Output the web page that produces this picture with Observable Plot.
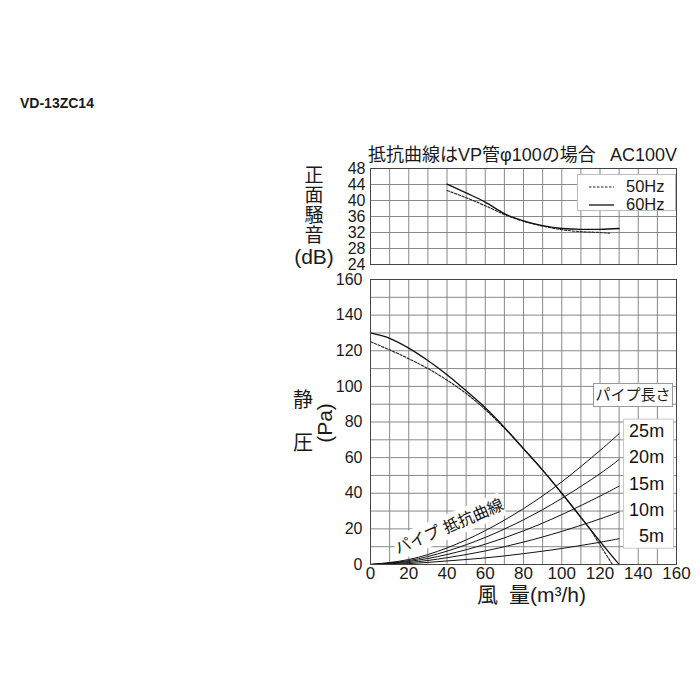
<!DOCTYPE html>
<html><head><meta charset="utf-8">
<script src="https://cdn.jsdelivr.net/npm/d3@7"></script>
<script src="https://cdn.jsdelivr.net/npm/@observablehq/plot@0.6"></script>
<style>
body{margin:0;background:#fff;}
#wrap{position:relative;width:700px;height:700px;overflow:hidden;font-family:"Liberation Sans",Arial,"Noto Sans CJK JP",sans-serif;color:#1a1a1a;}
.abs{position:absolute;white-space:nowrap;}
#wrap svg{position:absolute;left:0;}
</style></head><body><div id="wrap"></div>
<script>
// ---- data ----
const flowTicks = [0, 20, 40, 60, 80, 100, 120, 140, 160];
const pressureTicks = [0, 20, 40, 60, 80, 100, 120, 140, 160];
const noiseTicks = [24, 28, 32, 36, 40, 44, 48];

// noise (dB) vs flow
const noiseFlow60 = [40, 50, 60, 70, 80, 90, 100, 110, 120, 130];
const noise60     = [44.1, 41.9, 39.6, 36.7, 34.9, 33.7, 33.0, 32.8, 32.8, 33.0];
const noiseFlow50 = [40, 50, 60, 70, 80, 90, 100, 110, 120, 125];
const noise50     = [42.5, 40.7, 38.7, 36.5, 34.8, 33.6, 32.7, 32.2, 32.0, 31.8];

// static pressure (Pa) vs flow
const pqFlow60 = [0, 10, 20, 30, 40, 50, 60, 70, 80, 90, 100, 110, 120, 130];
const pq60     = [130, 127, 121.5, 114.5, 106.5, 97.5, 88, 77, 65, 53, 40, 26.5, 13, 0];
const pqFlow50 = [0, 10, 20, 30, 40, 50, 60, 70, 80, 90, 100, 110, 115, 120, 126.5];
const pq50     = [125, 120.5, 115.5, 110, 103.5, 96, 87, 76.5, 65, 53, 40, 26.5, 19.5, 11, 0];

// pipe resistance curves
const pipeFlow = [0, 20, 40, 60, 80, 100, 120, 130];
const pipeLabels = ["5m", "10m", "15m", "20m", "25m"];
const pipe5  = [0, 0.5, 2, 3.7, 6.1, 9, 12.5, 14.5];
const pipe10 = [0, 1.1, 3.8, 7.6, 12.6, 18.6, 25.6, 29.5];
const pipe15 = [0, 1.7, 5.6, 11.4, 18.9, 28, 38.4, 44];
const pipe20 = [0, 2.2, 7.5, 15.2, 25.1, 37.1, 51, 59];
const pipe25 = [0, 2.8, 9.3, 19, 31.4, 46.4, 64, 73.5];
const pipeValues = [pipe5, pipe10, pipe15, pipe20, pipe25];

// ---- tables ----
const rows = (xs, ys, key) => xs.map((q, i) => ({q, v: ys[i], s: key}));
const noiseA = rows(noiseFlow50, noise50, "50Hz");
const noiseB = rows(noiseFlow60, noise60, "60Hz");
const pqA = rows(pqFlow50, pq50, "50Hz");
const pqB = rows(pqFlow60, pq60, "60Hz");
const pipeRows = pipeLabels.flatMap((l, k) => rows(pipeFlow, pipeValues[k], l));
const pipeEnds = pipeLabels.map((l, k) => ({q: pipeFlow[pipeFlow.length - 1], v: pipeValues[k][pipeValues[k].length - 1], label: l}));

const FONT = '"Liberation Sans", Arial, "Noto Sans CJK JP", sans-serif';
const grid10 = d3.range(0, 161, 10);
const gridStyle = {stroke: "#7c7c7c", strokeOpacity: 1, strokeWidth: 0.9};
const baseStyle = {fontFamily: FONT, fontSize: "16px", color: "#1a1a1a", background: "transparent", overflow: "visible"};

const wrap = document.getElementById("wrap");

// ---- top: noise ----
const noisePlot = Plot.plot({
  width: 700, height: 140,
  marginLeft: 370, marginRight: 24, marginTop: 28, marginBottom: 16,
  x: {domain: [0, 160], axis: null},
  y: {domain: [24, 48], axis: null},
  style: baseStyle,
  marks: [
    Plot.gridX(grid10, gridStyle),
    Plot.gridY(noiseTicks, gridStyle),
    Plot.frame({stroke: "#444", strokeWidth: 1}),
    Plot.axisY(noiseTicks, {tickSize: 0, tickPadding: 5, label: null}),
    Plot.line(noiseA, {x: "q", y: "v", curve: "monotone-x", stroke: "#222", strokeWidth: 1.1, strokeDasharray: "2.5,1.5"}),
    Plot.line(noiseB, {x: "q", y: "v", curve: "monotone-x", stroke: "#111", strokeWidth: 1.3})
  ]
});
noisePlot.style.top = "140px";
wrap.appendChild(noisePlot);

// ---- bottom: static pressure ----
const pressurePlot = Plot.plot({
  width: 700, height: 344,
  marginLeft: 370, marginRight: 24, marginTop: 19, marginBottom: 40,
  x: {domain: [0, 160], axis: null},
  y: {domain: [0, 160], axis: null},
  style: baseStyle,
  marks: [
    Plot.gridX(grid10, gridStyle),
    Plot.gridY(grid10, gridStyle),
    Plot.line(pipeRows, {x: "q", y: "v", z: "s", curve: "natural", stroke: "#111", strokeWidth: 1}),
    Plot.line(pqA, {x: "q", y: "v", curve: "monotone-x", stroke: "#222", strokeWidth: 1.1, strokeDasharray: "2.5,1.5"}),
    Plot.line(pqB, {x: "q", y: "v", curve: "monotone-x", stroke: "#111", strokeWidth: 1.3}),
    Plot.frame({stroke: "#444", strokeWidth: 1}),
    Plot.axisY(pressureTicks, {tickSize: 0, tickPadding: 8, label: null}),
    Plot.axisX(flowTicks, {tickSize: 0, tickPadding: 2, label: null, fontSize: 17}),
    // white box behind the pipe-length labels
    (index, {x, y}) => {
      const ends = pipeEnds.map(d => d.v);
      const x0 = x(d3.max(pipeFlow)) + 5;
      const yTop = y(d3.max(ends)) - 14;
      const yBot = y(d3.min(ends)) + 10;
      const r = document.createElementNS("http://www.w3.org/2000/svg", "rect");
      r.setAttribute("x", x0); r.setAttribute("y", yTop);
      r.setAttribute("width", 50); r.setAttribute("height", yBot - yTop);
      r.setAttribute("fill", "white"); r.setAttribute("stroke", "#bbb"); r.setAttribute("stroke-width", 0.8);
      return r;
    },
    Plot.text(pipeEnds, {x: "q", y: "v", text: "label", textAnchor: "end", dx: 45, dy: -2, fontSize: 18, fill: "#111"}),
    // rotated "パイプ抵抗曲線" label with white background
    (index, {x, y}) => {
      const g = d3.create("svg:g").attr("transform", `translate(${x(41.3)},${y(21.2)}) rotate(-23)`);
      g.append("rect").attr("x", -58).attr("y", -12).attr("width", 116).attr("height", 24).attr("fill", "white");
      g.append("text").attr("text-anchor", "middle").attr("dy", "0.36em")
        .attr("font-size", 16).attr("fill", "#111").attr("font-family", FONT)
        .text("パイプ 抵抗曲線");
      return g.node();
    }
  ]
});
pressurePlot.style.top = "260px";
wrap.appendChild(pressurePlot);

// ---- HTML text & boxes ----
function add(html, css) {
  const d = document.createElement("div");
  d.className = "abs";
  d.innerHTML = html;
  Object.assign(d.style, css);
  wrap.appendChild(d);
  return d;
}
add("VD-13ZC14", {left: "20px", top: "95px", fontSize: "14px", fontWeight: "bold", lineHeight: "16px"});
add("抵抗曲線はVP管φ100の場合", {left: "368px", top: "144px", fontSize: "18px", lineHeight: "22px"});
add("AC100V", {right: "23px", top: "144px", fontSize: "18px", lineHeight: "22px"});

add("正<br>面<br>騒<br>音", {left: "289px", top: "166px", width: "50px", textAlign: "center", fontSize: "19px", lineHeight: "20px"});
add("(dB)", {left: "289px", top: "246px", width: "50px", textAlign: "center", fontSize: "21px", lineHeight: "22px"});
add("静", {left: "293px", top: "389px", fontSize: "20px", lineHeight: "22px"});
add("圧", {left: "293px", top: "432px", fontSize: "20px", lineHeight: "22px"});
add("(Pa)", {left: "304px", top: "411px", width: "42px", textAlign: "center", fontSize: "21px", lineHeight: "24px", transform: "rotate(-90deg)"});
add("<span style='margin-right:11px'>風</span>量(m³/h)", {left: "477px", top: "583px", fontSize: "21px", lineHeight: "24px"});

// legend box (top panel)
add(`<svg width="99" height="37" style="position:absolute;left:0;top:0">
  <line x1="11" x2="36" y1="12" y2="12" stroke="#222" stroke-width="1.1" stroke-dasharray="2.5,1.5"/>
  <line x1="11" x2="36" y1="30" y2="30" stroke="#111" stroke-width="1.3"/>
</svg>
<div style="position:absolute;left:48px;top:2px;font-size:16.5px;line-height:19px">50Hz</div>
<div style="position:absolute;left:48px;top:20px;font-size:16.5px;line-height:19px">60Hz</div>`,
  {left: "577px", top: "174px", width: "99px", height: "37px", background: "white", border: "1px solid #bbb", boxSizing: "border-box"});

// pipe length header box
add("パイプ長さ", {left: "593px", top: "383px", width: "80px", height: "24px", background: "white", border: "1px solid #999",
  boxSizing: "border-box", textAlign: "center", fontSize: "15px", lineHeight: "22px"});
</script></body></html>
